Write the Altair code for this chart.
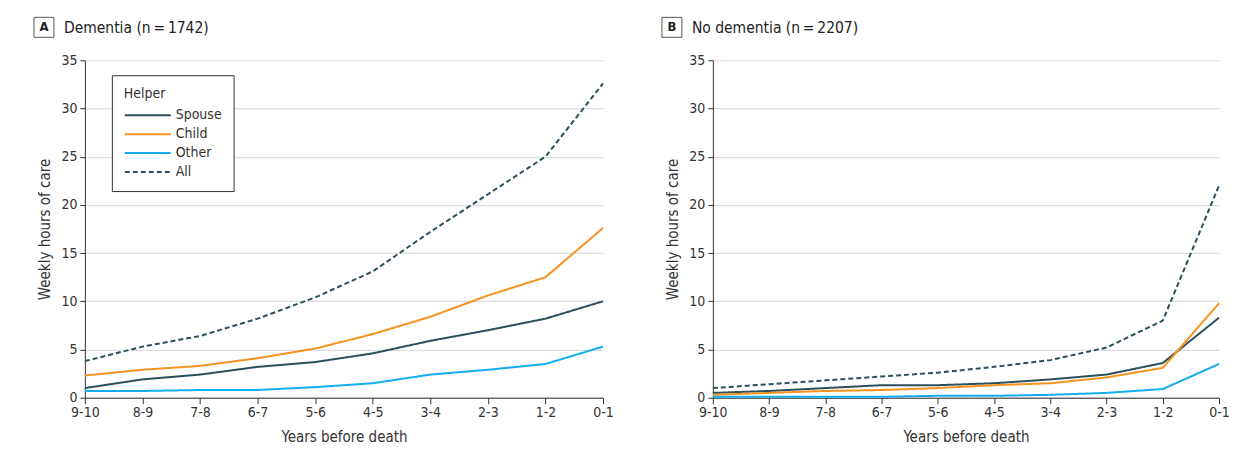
import altair as alt
import pandas as pd

years = ["9-10", "8-9", "7-8", "6-7", "5-6", "4-5", "3-4", "2-3", "1-2", "0-1"]
helpers = ["Spouse", "Child", "Other", "All"]

dem_spouse = [1.0, 1.9, 2.4, 3.2, 3.7, 4.6, 5.9, 7.0, 8.2, 10.0]
dem_child = [2.3, 2.9, 3.3, 4.1, 5.1, 6.6, 8.4, 10.6, 12.5, 17.6]
dem_other = [0.7, 0.7, 0.8, 0.8, 1.1, 1.5, 2.4, 2.9, 3.5, 5.3]
dem_all = [3.8, 5.3, 6.4, 8.2, 10.4, 13.1, 17.2, 21.1, 25.0, 32.6]

nod_spouse = [0.5, 0.7, 1.0, 1.3, 1.3, 1.5, 1.9, 2.4, 3.6, 8.3]
nod_child = [0.3, 0.5, 0.7, 0.8, 1.0, 1.3, 1.5, 2.1, 3.1, 9.8]
nod_other = [0.1, 0.1, 0.1, 0.1, 0.2, 0.2, 0.3, 0.5, 0.9, 3.5]
nod_all = [1.0, 1.4, 1.8, 2.2, 2.6, 3.2, 3.9, 5.2, 8.0, 22.0]

panel_letters = ["A", "B"]
panel_titles = ["Dementia (n\u2009=\u20091742)", "No dementia (n\u2009=\u20092207)"]

FONT = "DejaVu Sans Condensed, Roboto, sans-serif"
DARK = "#2d4e5b"
colors = [DARK, "#f7931e", "#12aeef", DARK]
dashes = [[1, 0], [1, 0], [1, 0], [5, 3]]


def long_df(series):
    rows = []
    for h, vals in zip(helpers, series):
        for i, (y, v) in enumerate(zip(years, vals)):
            rows.append({"Years": y, "Hours": v, "Helper": h, "order": i})
    return pd.DataFrame(rows)


def panel(series, letter, title, width, show_legend):
    df = long_df(series)
    if show_legend:
        leg = alt.Legend(
            title="Helper", orient="none", legendX=27, legendY=15,
            strokeColor="#333", padding=12, titleFontSize=14, titleFontWeight="normal",
            titleColor="#333", labelFontSize=14, labelColor="#333",
            symbolType="M-1,0H3.6", symbolSize=400, symbolStrokeWidth=2,
            rowPadding=1, titlePadding=3, labelOffset=30, fillColor="white",
            labelFont=FONT, titleFont=FONT,
        )
    else:
        leg = None
    lines = alt.Chart(df).mark_line(strokeWidth=2).encode(
        x=alt.X("Years:N", sort=years, scale=alt.Scale(type="point", padding=0),
                axis=alt.Axis(title="Years before death", labelAngle=0, grid=False,
                              tickSize=6, labelPadding=2, titlePadding=10)),
        y=alt.Y("Hours:Q", scale=alt.Scale(domain=[0, 35], nice=False),
                axis=alt.Axis(title="Weekly hours of care", values=list(range(0, 36, 5)),
                              tickSize=5, labelPadding=3, titlePadding=8)),
        color=alt.Color("Helper:N", scale=alt.Scale(domain=helpers, range=colors),
                        sort=helpers, legend=leg),
        strokeDash=alt.StrokeDash("Helper:N", scale=alt.Scale(domain=helpers, range=dashes),
                                  sort=helpers, legend=leg),
        detail="Helper:N",
        order="order:Q",
    )
    box = alt.Chart(pd.DataFrame({"t": [letter]})).mark_rect(
        filled=False, stroke="#555", strokeWidth=1
    ).encode(x=alt.value(-51), x2=alt.value(-31), y=alt.value(-43), y2=alt.value(-23))
    letter_t = alt.Chart(pd.DataFrame({"t": [letter]})).mark_text(
        font=FONT, fontSize=13, fontWeight="bold", color="#222", align="center", baseline="middle"
    ).encode(x=alt.value(-41), y=alt.value(-33), text="t:N")
    title_t = alt.Chart(pd.DataFrame({"t": [title]})).mark_text(
        font=FONT, fontSize=15.5, color="#222", align="left", baseline="middle"
    ).encode(x=alt.value(-21), y=alt.value(-32), text="t:N")
    return alt.layer(lines, box, letter_t, title_t).properties(width=width, height=338)


a = panel([dem_spouse, dem_child, dem_other, dem_all], panel_letters[0], panel_titles[0], 519, True)
b = panel([nod_spouse, nod_child, nod_other, nod_all], panel_letters[1], panel_titles[1], 507, False)

chart = alt.hconcat(a, b, spacing=47).properties(
    padding={"left": 25, "top": 8, "right": 0, "bottom": 0}
).configure(font=FONT).configure_view(stroke=None).configure_axis(
    labelFont=FONT, titleFont=FONT, labelFontSize=14, titleFontSize=15,
    labelColor="#333", titleColor="#333", titleFontWeight="normal",
    domainColor="#333", tickColor="#333", gridColor="#dddddd", gridWidth=1.2,
)

chart.save("out.html", embed_options={"renderer": "svg", "actions": False})
